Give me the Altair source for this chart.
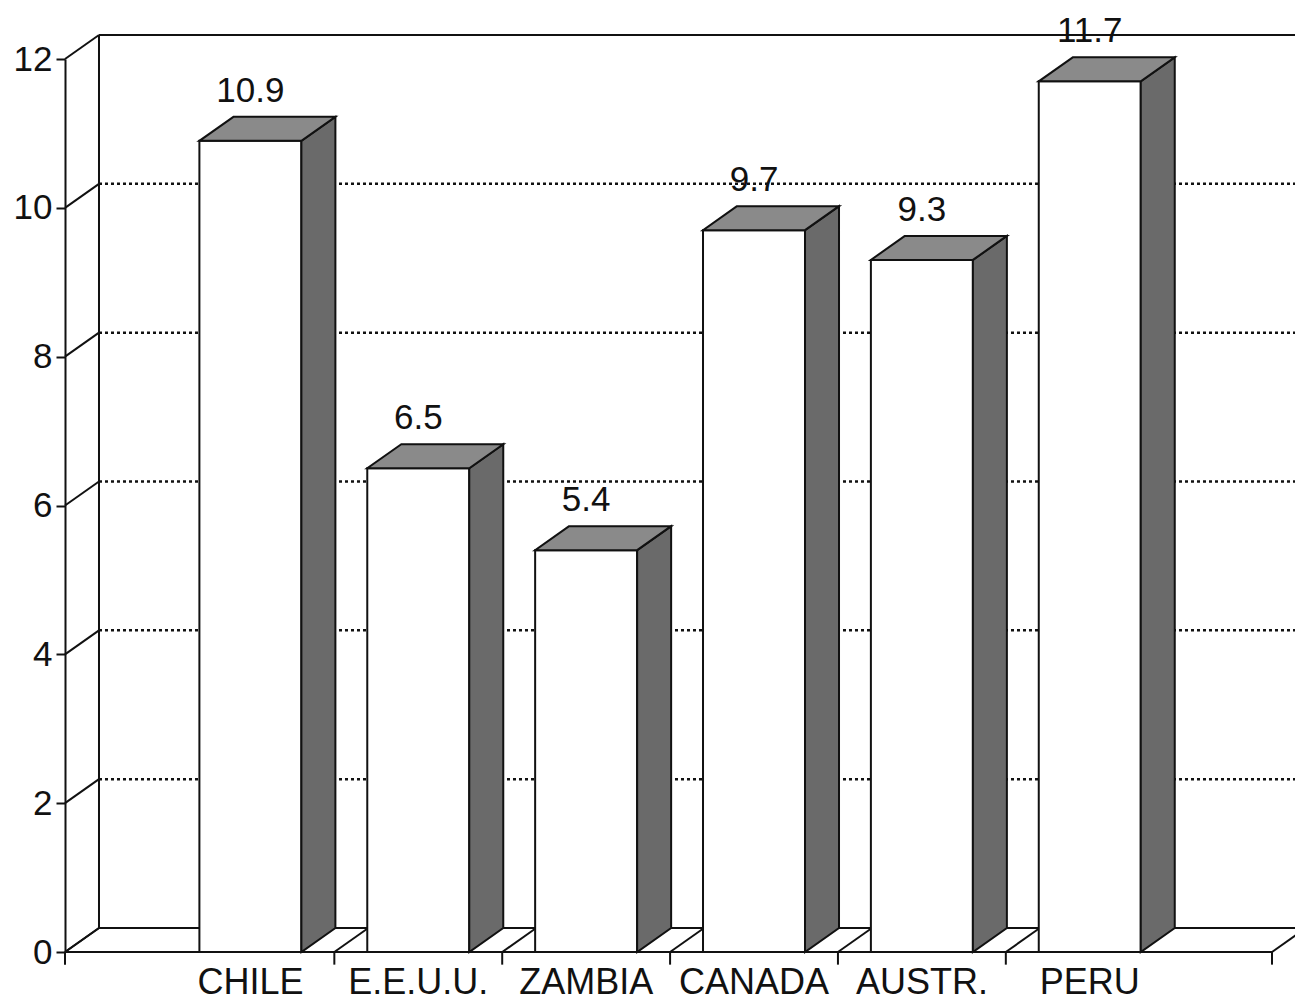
import altair as alt
import pandas as pd

# ---- chart data -------------------------------------------------------------
countries = ["CHILE", "E.E.U.U.", "ZAMBIA", "CANADA", "AUSTR.", "PERU"]
values = [10.9, 6.5, 5.4, 9.7, 9.3, 11.7]
y_ticks = [0, 2, 4, 6, 8, 10, 12]
grid_levels = [2, 4, 6, 8, 10]

# ---- layout of the pseudo-3D box (in scale units) ---------------------------
W, H = 1230, 916                      # plot area in pixels
X_MIN, X_MAX = -1.1044, 6.2226        # category index domain
FLOOR_R = 6.0857                      # right end of the front floor edge
Y_TOP = 12
DX, DY = 0.2025, 0.3225               # oblique depth (x in index units, y in value units)
HW = 0.3038                           # half width of a bar's front face

FONT = "Liberation Sans"
INK = "#111111"

x_scale = alt.Scale(domain=[X_MIN, X_MAX], nice=False, zero=False)
y_scale = alt.Scale(domain=[0, Y_TOP], range=[H, 23], nice=False, zero=False)
y_axis = alt.Axis(
    values=y_ticks, title=None, grid=False,
    domainColor=INK, domainWidth=2, tickColor=INK, tickWidth=2, tickSize=9,
    labelFont=FONT, labelFontSize=35, labelColor=INK, labelPadding=4,
)

# ---- tables built from the lists above ---------------------------------------
bars = pd.DataFrame({
    "country": countries,
    "value": values,
    "i": list(range(len(countries))),
})
bars["label"] = [f"{v:.1f}" for v in values]
bars["xl"] = bars["i"] - HW
bars["xr"] = bars["i"] + HW
bars["base"] = 0.0

side_rows, top_rows = [], []
for c, i, v in zip(countries, bars["i"], values):
    side_rows.append({"country": c, "x": i + HW, "top": v, "bot": 0.0})
    side_rows.append({"country": c, "x": i + HW + DX, "top": v + DY, "bot": DY})
    top_rows.append({"country": c, "y": v, "xa": i - HW, "xb": i + HW})
    top_rows.append({"country": c, "y": v + DY, "xa": i - HW + DX, "xb": i + HW + DX})
side = pd.DataFrame(side_rows)
top = pd.DataFrame(top_rows)

# dotted grid on the back wall
grid = pd.DataFrame({"y": [g + DY for g in grid_levels],
                     "x": X_MIN + DX, "x2": X_MAX})

# solid edges of the box: walls, floor and connectors
bounds = [X_MIN] + [i + 0.5 for i in range(len(countries) - 1)] + [FLOOR_R]
seg = []
seg.append((X_MIN + DX, DY, X_MIN + DX, Y_TOP + DY))        # back wall left edge
seg.append((X_MIN + DX, Y_TOP + DY, X_MAX, Y_TOP + DY))     # back wall top edge
seg.append((X_MIN, 0, FLOOR_R, 0))                          # floor front edge
seg.append((X_MIN + DX, DY, X_MAX, DY))                     # floor back edge
for b in bounds:
    seg.append((b, 0, b + DX, DY))                          # floor diagonals
    seg.append((b, 0, b, -0.17))                            # category ticks
for t in y_ticks:
    seg.append((X_MIN, t, X_MIN + DX, t + DY))              # axis-to-wall connectors
edges = pd.DataFrame(seg, columns=["x", "y", "x2", "y2"])


def xq(field, **kw):
    return alt.X(field, scale=x_scale, axis=None, **kw)


def yq(field, **kw):
    return alt.Y(field, scale=y_scale, axis=y_axis, **kw)


# ---- layers ------------------------------------------------------------------
grid_layer = alt.Chart(grid).mark_rule(
    color=INK, strokeWidth=2.5, strokeDash=[3, 3]
).encode(x=xq("x:Q"), x2="x2:Q", y=yq("y:Q"))

edge_layer = alt.Chart(edges).mark_rule(color=INK, strokeWidth=2).encode(
    x=xq("x:Q"), x2="x2:Q", y=yq("y:Q"), y2="y2:Q",
)

front_layer = alt.Chart(bars).mark_rect(
    fill="white", stroke=INK, strokeWidth=2
).encode(x=xq("xl:Q"), x2="xr:Q", y=yq("base:Q"), y2="value:Q")

side_layer = alt.Chart(side).mark_area(
    orient="vertical", fill="#6a6a6a", stroke=INK, strokeWidth=2,
    strokeJoin="miter", fillOpacity=1,
).encode(
    x=xq("x:Q"), y=yq("top:Q", stack=None), y2="bot:Q", detail="country:N",
)

top_layer = alt.Chart(top).mark_area(
    orient="horizontal", fill="#8a8a8a", stroke=INK, strokeWidth=2,
    strokeJoin="miter", fillOpacity=1,
).encode(
    y=yq("y:Q"), x=xq("xa:Q", stack=None), x2="xb:Q", detail="country:N",
)

value_layer = alt.Chart(bars).mark_text(
    font=FONT, fontSize=35, color=INK, dy=-50, baseline="middle", align="center"
).encode(x=xq("i:Q"), y=yq("value:Q"), text="label:N")

cat_layer = alt.Chart(bars).mark_text(
    font=FONT, fontSize=36, color=INK, dy=42, baseline="alphabetic", align="center"
).encode(x=xq("i:Q"), y=yq("base:Q"), text="country:N")

chart = alt.layer(
    grid_layer, edge_layer, front_layer, side_layer, top_layer,
    value_layer, cat_layer,
).properties(
    width=W, height=H,
    padding={"left": 65, "top": 36, "right": 0, "bottom": 50},
    autosize=alt.AutoSizeParams(type="none"),
    background="white",
).configure_view(stroke=None)

chart.save("out.html", embed_options={"renderer": "svg", "actions": False})
